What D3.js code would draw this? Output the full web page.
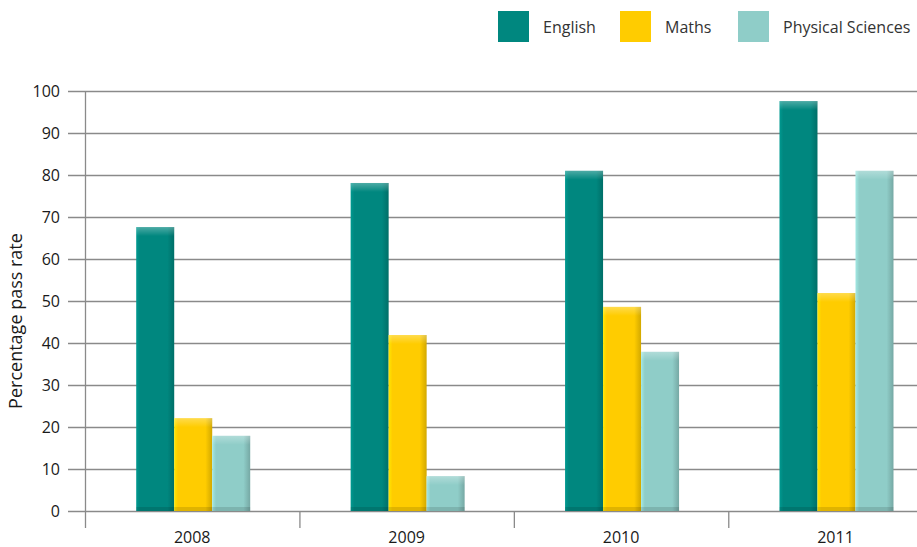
<!DOCTYPE html>
<html>
<head>
<meta charset="utf-8">
<script src="https://cdn.jsdelivr.net/npm/d3@7"></script>
<style>
  html, body { margin: 0; padding: 0; background: #fff; }
  svg { display: block; font-family: "Open Sans", "Noto Sans", sans-serif; }
</style>
</head>
<body>
<svg id="chart" width="917" height="547"></svg>
<script>
// Pass rates by year and subject
const years = ["2008", "2009", "2010", "2011"];
const subjects = ["English", "Maths", "Physical Sciences"];
const english = [67.6, 78.1, 81.0, 97.6];
const maths = [22.1, 41.9, 48.6, 51.9];
const physical = [17.9, 8.3, 37.9, 81.0];
const yTicks = [0, 10, 20, 30, 40, 50, 60, 70, 80, 90, 100];
const colors = ["#00877f", "#ffcc00", "#8fcdc8"];

const seriesValues = [english, maths, physical];
const rows = years.map((yr, i) => ({
  year: yr,
  values: subjects.map((s, j) => ({ subject: s, idx: j, value: seriesValues[j][i] }))
}));

const svg = d3.select("#chart");
const W = 917;
const plotLeft = 85, plotRight = 942.7, plotTop = 91, plotBottom = 511;

const x = d3.scaleBand().domain(years).range([plotLeft, plotRight]).paddingInner(0).paddingOuter(0);
const barW = 38;
const xs = d3.scaleBand().domain(subjects).range([0, barW * 3]);
const y = d3.scaleLinear().domain([0, 100]).range([plotBottom, plotTop]);

// Bevelled bar gradients: light left edge, dark right edge; light top, dark bottom
const defs = svg.append("defs");
colors.forEach((c, i) => {
  const base = d3.color(c);
  const hg = defs.append("linearGradient").attr("id", "h" + i)
    .attr("x1", 0).attr("x2", 1).attr("y1", 0).attr("y2", 0);
  hg.append("stop").attr("offset", 0).attr("stop-color", base.brighter(0.35));
  hg.append("stop").attr("offset", 0.1).attr("stop-color", c);
  hg.append("stop").attr("offset", 0.82).attr("stop-color", c);
  hg.append("stop").attr("offset", 1).attr("stop-color", base.darker(0.55));
  const vg = defs.append("linearGradient").attr("id", "v" + i)
    .attr("x1", 0).attr("x2", 0).attr("y1", 0).attr("y2", 1);
  vg.append("stop").attr("offset", 0).attr("stop-color", "#fff").attr("stop-opacity", 0.3);
  vg.append("stop").attr("offset", 1).attr("stop-color", "#fff").attr("stop-opacity", 0);
});

// Horizontal gridlines with y tick labels
const grid = svg.append("g");
grid.selectAll("line").data(yTicks).join("line")
  .attr("x1", 68).attr("x2", W)
  .attr("y1", d => y(d) + 0.5).attr("y2", d => y(d) + 0.5)
  .attr("stroke", "#8a8a8a").attr("stroke-width", 1.3);
grid.selectAll("text").data(yTicks).join("text")
  .attr("x", 60).attr("y", d => y(d) + 5.5)
  .attr("text-anchor", "end").attr("font-size", 16).attr("fill", "#1a1a1a")
  .text(d => d);

// Vertical axis line
svg.append("line").attr("x1", plotLeft + 0.5).attr("x2", plotLeft + 0.5)
  .attr("y1", plotTop).attr("y2", 528)
  .attr("stroke", "#8a8a8a").attr("stroke-width", 1.3);

// Category separators below the baseline
svg.append("g").selectAll("line").data(years.slice(1)).join("line")
  .attr("x1", d => x(d) + 0.5).attr("x2", d => x(d) + 0.5)
  .attr("y1", plotBottom).attr("y2", 528)
  .attr("stroke", "#8a8a8a").attr("stroke-width", 1.3);

// Year labels
svg.append("g").selectAll("text").data(years).join("text")
  .attr("x", d => x(d) + x.bandwidth() / 2)
  .attr("y", 543).attr("text-anchor", "middle")
  .attr("font-size", 16).attr("fill", "#1a1a1a")
  .text(d => d);

// Bars
const groups = svg.append("g").selectAll("g").data(rows).join("g")
  .attr("transform", d => `translate(${x(d.year) + x.bandwidth() / 2 - barW * 1.5 + 1},0)`);

const bars = groups.selectAll("g").data(d => d.values).join("g");
bars.append("rect")
  .attr("x", d => xs(d.subject)).attr("width", xs.bandwidth())
  .attr("y", d => y(d.value)).attr("height", d => y(0) - y(d.value))
  .attr("fill", d => `url(#h${d.idx})`);
// top highlight
bars.append("rect")
  .attr("x", d => xs(d.subject)).attr("width", xs.bandwidth())
  .attr("y", d => y(d.value)).attr("height", d => Math.min(9, y(0) - y(d.value)))
  .attr("fill", d => `url(#v${d.idx})`);
// bottom shade
bars.append("rect")
  .attr("x", d => xs(d.subject)).attr("width", xs.bandwidth())
  .attr("y", d => y(0) - Math.min(4, y(0) - y(d.value))).attr("height", d => Math.min(4, y(0) - y(d.value)))
  .attr("fill", "#000").attr("opacity", 0.12);

// Legend
const legendX = [498, 620, 738];
const legend = svg.append("g").selectAll("g").data(subjects).join("g")
  .attr("transform", (d, i) => `translate(${legendX[i]},11)`);
legend.append("rect").attr("width", 31).attr("height", 31)
  .attr("fill", (d, i) => colors[i]);
legend.append("text").attr("x", 45).attr("y", 22)
  .attr("font-size", 16).attr("fill", "#333")
  .text(d => d);

// Y axis title
svg.append("text")
  .attr("transform", "translate(22,321) rotate(-90)")
  .attr("text-anchor", "middle").attr("font-size", 18).attr("fill", "#1a1a1a")
  .text("Percentage pass rate");
</script>
</body>
</html>
